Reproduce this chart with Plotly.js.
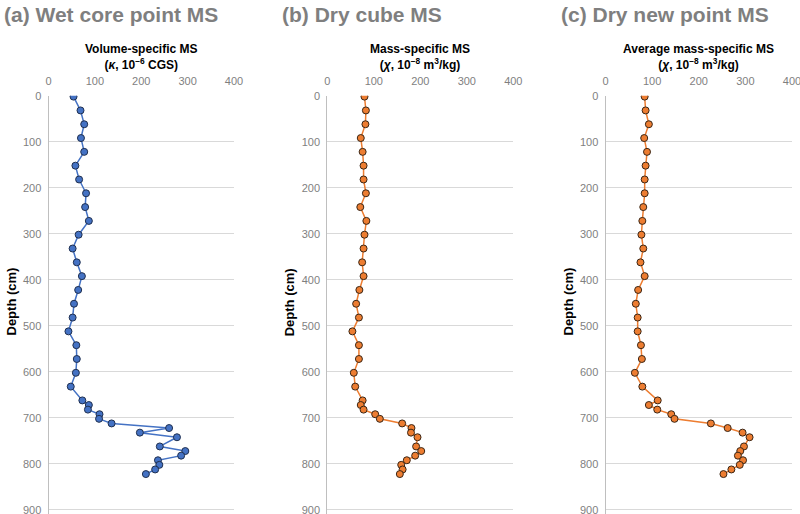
<!DOCTYPE html>
<html>
<head>
<meta charset="utf-8">
<script src="https://cdn.plot.ly/plotly-3.0.1.min.js"></script>
<style>html,body{margin:0;padding:0;background:#fff}#chart{width:800px;height:514px}</style>
</head>
<body>
<div id="chart"></div>
<script>
const depthCm = [2,32,62,92,122,152,182,212,242,272,302,332,362,392,422,452,482,512,542,572,602,632,662,672,682,692,702,712,722,732,742,762,772,782,792,802,812,822];
const wetCoreKappa = [54,69,77,70,77,58,66,81,79,87,65,52,61,72,64,55,52,43,60,61,59,48,73,87,85,110,109,136,260,197,277,240,295,286,236,239,230,210];
const dryCubeChi = [80,83,82,72,76,78,78,83,71,84,80,78,75,78,69,62,68,54,68,68,57,60,76,72,78,103,113,161,181,180,194,191,202,189,171,159,162,156];
const dryNewPointChi = [84,86,93,83,89,86,84,84,81,79,77,81,75,84,70,65,69,69,76,78,63,79,112,93,111,141,148,226,262,294,309,297,289,284,295,288,270,253];
const xTicks = [0,100,200,300,400];
const yTicks = [0,100,200,300,400,500,600,700,800,900];

const panelTitles = ['(a) Wet core point MS','(b) Dry cube MS','(c) Dry new point MS'];
const axisTitles = ['Volume-specific MS<br>(<i>κ</i>, 10<sup>−6</sup> CGS)','Mass-specific MS<br>(<i>χ</i>, 10<sup>−8</sup> m<sup>3</sup>/kg)','Average mass-specific MS<br>(<i>χ</i>, 10<sup>−8</sup> m<sup>3</sup>/kg)'];

const W = 800, H = 514;
const xPix = [[48.5,234],[327.3,513.3],[605.5,792]];
const yTop = 95.7, pxPerCm = 0.4603;
const yDom = [0, 1 - yTop/H];
const yMax = (H - yTop)/pxPerCm;

const blue = {fill:'#4472C4', edge:'#1F2F4F'};
const orange = {fill:'#ED7D31', edge:'#3A2616'};

function trace(vals, col, i){
  return {
    x: vals, y: depthCm, type:'scatter', mode:'lines+markers',
    xaxis: i===0?'x':'x'+(i+1), yaxis: i===0?'y':'y'+(i+1),
    line:{color:col.fill, width:1.5},
    marker:{size:7, color:col.fill, line:{color:col.edge, width:1}},
    hoverinfo:'x+y', showlegend:false
  };
}
const data = [trace(wetCoreKappa, blue, 0), trace(dryCubeChi, orange, 1), trace(dryNewPointChi, orange, 2)];

const layout = {
  width: W, height: H,
  margin:{l:0,r:0,t:0,b:0},
  paper_bgcolor:'#fff', plot_bgcolor:'#fff',
  font:{family:'Liberation Sans, Arial, sans-serif', color:'#000'},
  annotations: [],
  showlegend:false
};
for (let i=0;i<3;i++){
  const xa = i===0?'xaxis':'xaxis'+(i+1);
  const ya = i===0?'yaxis':'yaxis'+(i+1);
  const yid = i===0?'y':'y'+(i+1);
  const xid = i===0?'x':'x'+(i+1);
  layout[xa] = {
    domain:[xPix[i][0]/W, xPix[i][1]/W], anchor:yid, side:'top',
    range:[0,400], tickvals:xTicks, ticktext:xTicks.map(String),
    showgrid:false, zeroline:false, showline:false,
    ticks:'outside', ticklen:5, tickcolor:'rgba(0,0,0,0)',
    tickfont:{size:11, color:'#7f7f7f', family:'Liberation Sans, Arial, sans-serif'},
    ticklabeloverflow:'allow',
    fixedrange:true
  };
  layout[ya] = {
    domain:yDom, anchor:xid,
    range:[yMax,0], tickvals:yTicks, ticktext:yTicks.map(String),
    showgrid:true, gridcolor:'#d9d9d9', gridwidth:1,
    zeroline:false, showline:true, linecolor:'#bfbfbf', linewidth:1,
    ticks:'outside', ticklen:4, tickcolor:'rgba(0,0,0,0)',
    tickfont:{size:11, color:'#7f7f7f', family:'Liberation Sans, Arial, sans-serif'},
    ticklabeloverflow:'allow',
    fixedrange:true
  };
  const cx = (xPix[i][0]+xPix[i][1])/2/W;
  layout.annotations.push({
    text:'<b>'+panelTitles[i]+'</b>', xref:'paper', yref:'paper',
    x:(xPix[i][0]-47)/W, y:1-1/H, xanchor:'left', yanchor:'top', showarrow:false,
    font:{size:21, color:'#7f7f7f', family:'Liberation Sans, Arial, sans-serif'}
  });
  layout.annotations.push({
    text:'<b>'+axisTitles[i]+'</b>', xref:'paper', yref:'paper',
    x:cx, y:1-57/H, xanchor:'center', yanchor:'middle', showarrow:false,
    font:{size:12, color:'#000', family:'Liberation Sans, Arial, sans-serif'}
  });
  layout.annotations.push({
    text:'<b>Depth (cm)</b>', xref:'paper', yref:'paper',
    x:(xPix[i][0]-38)/W, y:1-302/H, xanchor:'center', yanchor:'middle',
    textangle:-90, showarrow:false,
    font:{size:13, color:'#000', family:'Liberation Sans, Arial, sans-serif'}
  });
}
Plotly.newPlot('chart', data, layout, {displayModeBar:false, staticPlot:true});
</script>
</body>
</html>
